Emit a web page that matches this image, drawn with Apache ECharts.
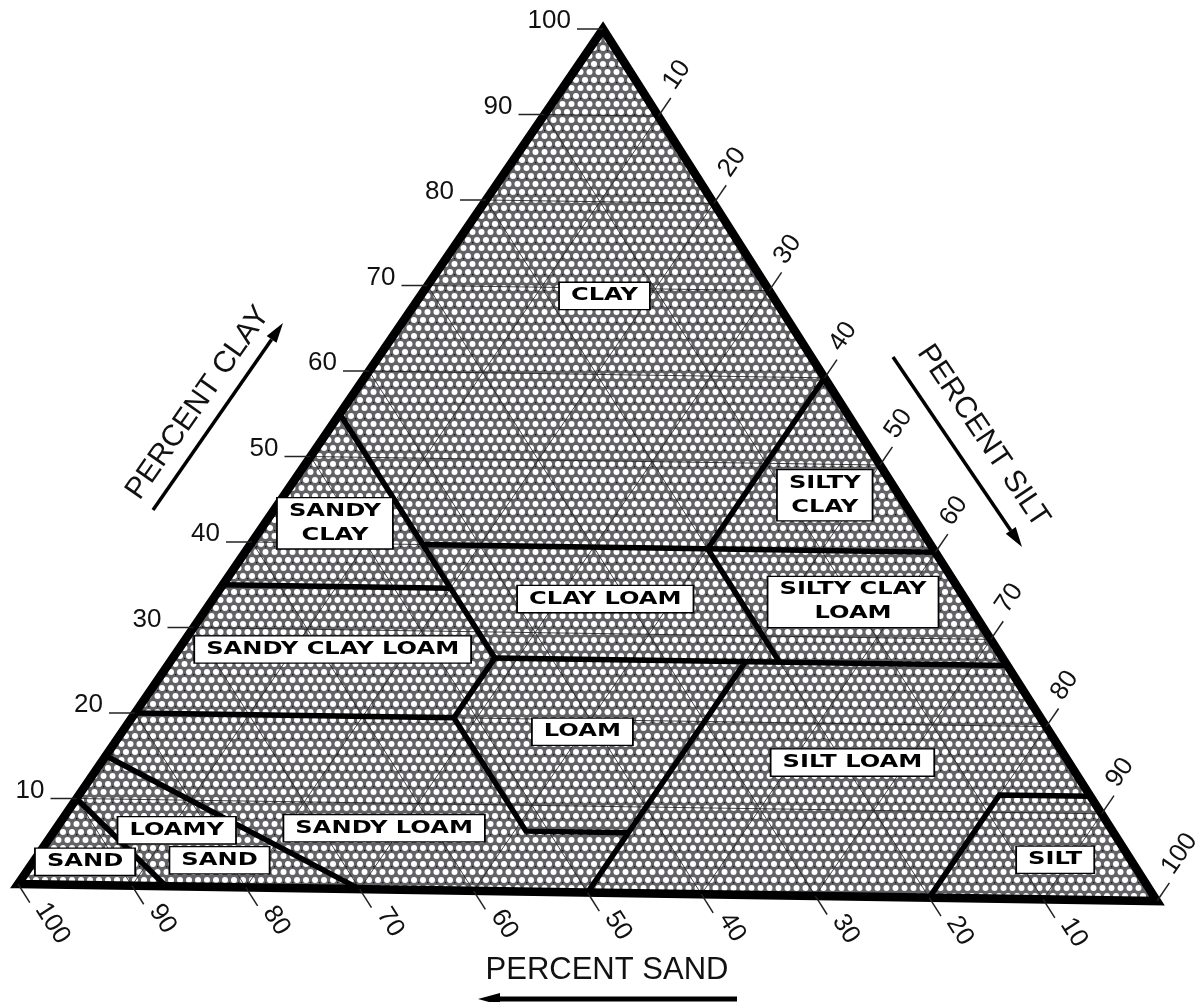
<!DOCTYPE html>
<html>
<head>
<meta charset="utf-8">
<script src="https://cdn.jsdelivr.net/npm/echarts@6/dist/echarts.min.js"></script>
<style>
  html, body { margin: 0; padding: 0; background: #fff; }
  #chart { width: 1198px; height: 1002px; }
</style>
</head>
<body>
<div id="chart"></div>
<script>
// USDA soil texture triangle — ternary points are [clay, silt], sand = 100 - clay - silt

var clayTicks = [10, 20, 30, 40, 50, 60, 70, 80, 90, 100];
var siltTicks = [10, 20, 30, 40, 50, 60, 70, 80, 90, 100];
var sandTicks = [100, 90, 80, 70, 60, 50, 40, 30, 20, 10];
var gridSteps = [10, 20, 30, 40, 50, 60, 70, 80, 90];

// class boundaries, each a polyline of [clay, silt]
var boundaryLines = [
  [[10, 0], [0, 13]],
  [[15, 0], [0, 30]],
  [[20, 0], [20, 28], [7, 41], [7, 50]],
  [[27, 50], [0, 50]],
  [[20, 28], [27, 28], [55, 0]],
  [[27, 28], [27, 73]],
  [[35, 0], [35, 20]],
  [[40, 15], [40, 60]],
  [[27, 53], [40, 40]],
  [[40, 40], [60, 40]],
  [[0, 80], [12, 80], [12, 88]]
];

var classNames = ['CLAY', 'SANDY\nCLAY', 'SILTY\nCLAY', 'CLAY LOAM', 'SILTY CLAY\nLOAM',
  'SANDY CLAY LOAM', 'LOAM', 'SILT LOAM', 'LOAMY', 'SAND', 'SANDY LOAM', 'SAND', 'SILT'];
var classAnchors = [[69.1, 16.0], [42.3, 6.1], [46.4, 47.0], [34.0, 34.1], [34.1, 55.8],
  [27.7, 13.4], [18.6, 40.0], [15.5, 65.3], [6.5, 10.6], [3.1, 16.1], [7.1, 28.5], [2.7, 4.5], [4.6, 88.7]];

// the scanned triangle is a little squashed and tilted
var SKEW_X = 0.5136, SKEW_Y = 0.0199;
function toXY(p) { return [p[1] + SKEW_X * p[0], p[0] - SKEW_Y * p[1]]; }

function unit(a, b) {
  var dx = b[0] - a[0], dy = b[1] - a[1], l = Math.sqrt(dx * dx + dy * dy);
  return [dx / l, dy / l];
}

function makeTexture() {
  var c = document.createElement('canvas');
  c.width = 9; c.height = 16;
  var g = c.getContext('2d');
  g.fillStyle = '#636367';
  g.fillRect(0, 0, 9, 16);
  g.fillStyle = '#ffffff';
  [[0, 0], [9, 0], [0, 16], [9, 16], [4.5, 8]].forEach(function(p) {
    g.beginPath(); g.arc(p[0], p[1], 3.0, 0, Math.PI * 2); g.fill();
  });
  g.fillStyle = '#111';
  g.fillRect(4, 2, 1.3, 1.3);
  return c;
}
var texture = makeTexture();

var chart = echarts.init(document.getElementById('chart'), null, { renderer: 'canvas' });

var tickFont = '26px "Liberation Sans", Arial, sans-serif';

function corners(api) {
  return {
    L: api.coord(toXY([0, 0])),
    R: api.coord(toXY([0, 100])),
    T: api.coord(toXY([100, 0]))
  };
}

var series = [];

// triangle fill
series.push({
  type: 'custom', clip: false, silent: true,
  data: [0],
  renderItem: function(params, api) {
    var c = corners(api);
    return { type: 'polygon', shape: { points: [c.L, c.R, c.T] },
      style: { fill: { image: texture, repeat: 'repeat' }, stroke: null } };
  }
});

// 10% lattice
series.push({
  type: 'custom', clip: false, silent: true,
  data: gridSteps,
  renderItem: function(params, api) {
    var v = api.value(0);
    var segs = [
      [[v, 0], [v, 100 - v]],
      [[0, v], [100 - v, v]],
      [[0, 100 - v], [100 - v, 0]]
    ];
    return { type: 'group', children: segs.map(function(s) {
      var a = api.coord(toXY(s[0])), b = api.coord(toXY(s[1]));
      return { type: 'line', shape: { x1: a[0], y1: a[1], x2: b[0], y2: b[1] },
        style: { stroke: '#222', lineWidth: 1, opacity: 0.85 } };
    }) };
  }
});

// class boundaries
series.push({
  type: 'custom', clip: false, silent: true,
  data: boundaryLines.map(function(l, i) { return i; }),
  renderItem: function(params, api) {
    var line = boundaryLines[api.value(0)];
    return { type: 'polyline', shape: { points: line.map(function(p) { return api.coord(toXY(p)); }) },
      style: { stroke: '#000', lineWidth: 5.5, fill: null, lineJoin: 'miter' } };
  }
});

// outline
series.push({
  type: 'custom', clip: false, silent: true,
  data: [0],
  renderItem: function(params, api) {
    var c = corners(api);
    return { type: 'polygon', shape: { points: [c.L, c.R, c.T] },
      style: { fill: null, stroke: '#000', lineWidth: 8.5, lineJoin: 'miter', miterLimit: 10 } };
  }
});

// clay ticks (left edge)
series.push({
  type: 'custom', clip: false, silent: true,
  data: clayTicks,
  renderItem: function(params, api) {
    var v = api.value(0);
    var p = api.coord(toXY([v, 0]));
    return { type: 'group', children: [
      { type: 'line', shape: { x1: p[0] - 26, y1: p[1], x2: p[0], y2: p[1] },
        style: { stroke: '#222', lineWidth: 1.5 } },
      { type: 'text', x: p[0] - 32, y: p[1] - 8,
        style: { text: String(v), font: tickFont, fill: '#111', align: 'right', verticalAlign: 'middle' } }
    ] };
  }
});

// silt ticks (right edge)
series.push({
  type: 'custom', clip: false, silent: true,
  data: siltTicks,
  renderItem: function(params, api) {
    var v = api.value(0);
    var c = corners(api);
    var d = unit(c.L, c.T), up = [d[1], -d[0]];
    var p = api.coord(toXY([100 - v, v]));
    return { type: 'group', children: [
      { type: 'line', shape: { x1: p[0], y1: p[1], x2: p[0] + d[0] * 22, y2: p[1] + d[1] * 22 },
        style: { stroke: '#222', lineWidth: 1.5 } },
      { type: 'text', x: p[0] + d[0] * 30 + up[0] * 8, y: p[1] + d[1] * 30 + up[1] * 8,
        rotation: Math.atan2(-d[1], d[0]),
        style: { text: String(v), font: tickFont, fill: '#111', align: 'left', verticalAlign: 'middle' } }
    ] };
  }
});

// sand ticks (bottom edge)
series.push({
  type: 'custom', clip: false, silent: true,
  data: sandTicks,
  renderItem: function(params, api) {
    var v = api.value(0);
    var c = corners(api);
    var d = unit(c.T, c.R), up = [d[1], -d[0]];
    var p = api.coord(toXY([0, 100 - v]));
    return { type: 'group', children: [
      { type: 'line', shape: { x1: p[0], y1: p[1], x2: p[0] + d[0] * 22, y2: p[1] + d[1] * 22 },
        style: { stroke: '#222', lineWidth: 1.5 } },
      { type: 'text', x: p[0] + d[0] * 30 + up[0] * 8, y: p[1] + d[1] * 30 + up[1] * 8,
        rotation: Math.atan2(-d[1], d[0]),
        style: { text: String(v), font: tickFont, fill: '#111', align: 'left', verticalAlign: 'middle' } }
    ] };
  }
});

// class labels
series.push({
  type: 'custom', clip: false, silent: true,
  data: classNames.map(function(n, i) { return i; }),
  renderItem: function(params, api) {
    var i = api.value(0);
    var p = api.coord(toXY(classAnchors[i]));
    return { type: 'text', x: p[0], y: p[1], scaleX: 1.38,
      style: { text: classNames[i], font: 'bold 17.5px "DejaVu Sans", sans-serif',
        fill: '#000', align: 'center', verticalAlign: 'middle', lineHeight: 24,
        backgroundColor: '#fff', borderColor: '#000', borderWidth: 1.3, padding: [1, 8] } };
  }
});

function arrow(x1, y1, x2, y2, w, head) {
  var d = unit([x1, y1], [x2, y2]), n = [-d[1], d[0]];
  var bx = x2 - d[0] * head, by = y2 - d[1] * head;
  return { type: 'group', silent: true, children: [
    { type: 'line', shape: { x1: x1, y1: y1, x2: bx, y2: by }, style: { stroke: '#000', lineWidth: w } },
    { type: 'polygon', shape: { points: [[x2, y2], [bx + n[0] * 6, by + n[1] * 6], [bx - n[0] * 6, by - n[1] * 6]] },
      style: { fill: '#000' } }
  ] };
}

var titleFont = '30px "Liberation Sans", Arial, sans-serif';

chart.setOption({
  animation: false,
  grid: { left: 18, top: 29, width: 1139, height: 940.5 },
  xAxis: { type: 'value', min: 0, max: 100, show: false },
  yAxis: { type: 'value', min: -10, max: 100, show: false },
  series: series,
  graphic: [
    { type: 'text', x: 198, y: 403, rotation: 55 * Math.PI / 180, silent: true,
      style: { text: 'PERCENT CLAY', font: titleFont, fill: '#111', align: 'center', verticalAlign: 'middle' } },
    arrow(153, 510, 283, 323, 3.5, 20),
    { type: 'text', x: 983, y: 436, rotation: -56 * Math.PI / 180, silent: true,
      style: { text: 'PERCENT SILT', font: titleFont, fill: '#111', align: 'center', verticalAlign: 'middle' } },
    arrow(893, 357, 1022, 547, 3.5, 20),
    { type: 'text', x: 607, y: 970, silent: true,
      style: { text: 'PERCENT SAND', font: '31px "Liberation Sans", Arial, sans-serif', fill: '#111', align: 'center', verticalAlign: 'middle' } },
    arrow(737, 999, 478, 999, 5, 22)
  ]
});
</script>
</body>
</html>
